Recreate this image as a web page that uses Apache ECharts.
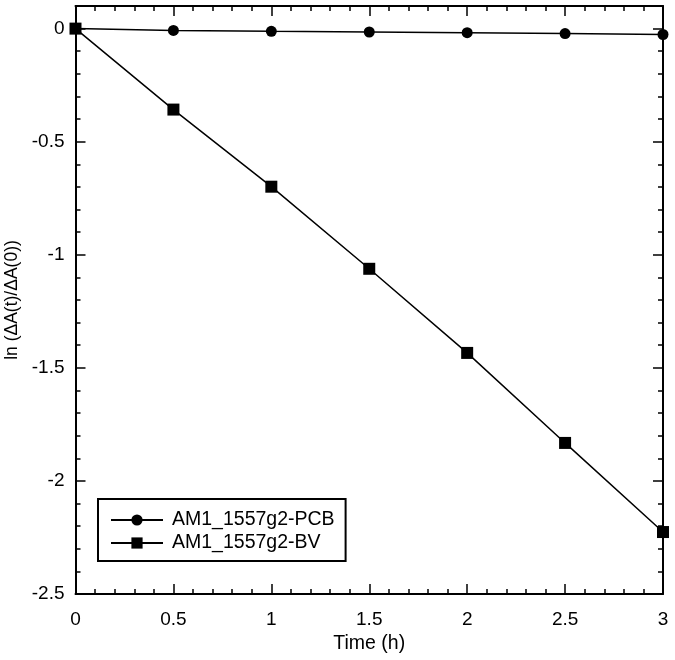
<!DOCTYPE html>
<html><head><meta charset="utf-8">
<script src="https://cdn.jsdelivr.net/npm/echarts@6/dist/echarts.min.js"></script>
<style>html,body{margin:0;padding:0;background:#fff}#c{width:675px;height:660px}</style>
</head><body><div id="c"></div>
<script>
const times = [0, 0.5, 1, 1.5, 2, 2.5, 3];
const pcbValues = [0, -0.008, -0.012, -0.015, -0.018, -0.022, -0.026];
const bvValues = [0, -0.358, -0.699, -1.062, -1.434, -1.832, -2.226];
const seriesNames = ['AM1_1557g2-PCB', 'AM1_1557g2-BV'];
const xTitle = 'Time (h)';
const yTitle = 'ln (\u0394A(t)/\u0394A(0))';

const FONT = 'Liberation Sans, Arial, sans-serif';
const chart = echarts.init(document.getElementById('c'));
const axisCommon = {
  axisLine: {show: true, onZero: false, lineStyle: {color: '#000', width: 2}},
  axisTick: {show: true, inside: true, length: 10, lineStyle: {color: '#000', width: 1.5}},
  minorTick: {show: true, splitNumber: 5, length: 5, lineStyle: {color: '#000', width: 1.5}},
  splitLine: {show: false},
  minorSplitLine: {show: false}
};
chart.setOption({
  animation: false,
  grid: {left: 75.5, right: 12, top: 6, bottom: 66, containLabel: false, outerBoundsMode: 'none'},
  xAxis: [
    Object.assign({type: 'value', min: 0, max: 3, interval: 0.5, position: 'bottom',
      name: xTitle, nameLocation: 'middle', nameGap: 39,
      nameTextStyle: {fontFamily: FONT, fontSize: 19.5, color: '#000'},
      axisLabel: {fontFamily: FONT, fontSize: 19, color: '#000', margin: 16}}, axisCommon),
    Object.assign({type: 'value', min: 0, max: 3, interval: 0.5, position: 'top',
      axisLabel: {show: false}}, axisCommon)
  ],
  yAxis: [
    Object.assign({type: 'value', min: -2.5, max: 0.1, interval: 0.5, position: 'left',
      name: yTitle, nameLocation: 'middle', nameGap: 44,
      nameTextStyle: {fontFamily: FONT, fontSize: 17.5, color: '#000'},
      axisLabel: {fontFamily: FONT, fontSize: 19, color: '#000', margin: 11, showMaxLabel: false}}, axisCommon),
    Object.assign({type: 'value', min: -2.5, max: 0.1, interval: 0.5, position: 'right',
      axisLabel: {show: false}}, axisCommon)
  ],
  legend: {
    orient: 'vertical', left: 98, top: 499,
    padding: [11, 11, 8, 12], itemGap: 3,
    borderColor: '#000', borderWidth: 2,
    itemWidth: 52, itemHeight: 14,
    textStyle: {fontFamily: FONT, fontSize: 19.5, lineHeight: 20, color: '#000', padding: [0, 0, 0, 4]},
    data: seriesNames
  },
  series: [
    {name: seriesNames[0], type: 'line', data: times.map((t, i) => [t, pcbValues[i]]),
     symbol: 'circle', symbolSize: 11, lineStyle: {color: '#000', width: 1.5},
     itemStyle: {color: '#000'}, z: 3},
    {name: seriesNames[1], type: 'line', data: times.map((t, i) => [t, bvValues[i]]),
     symbol: 'rect', symbolSize: 12, lineStyle: {color: '#000', width: 1.5},
     itemStyle: {color: '#000'}, z: 4}
  ]
});
</script></body></html>
